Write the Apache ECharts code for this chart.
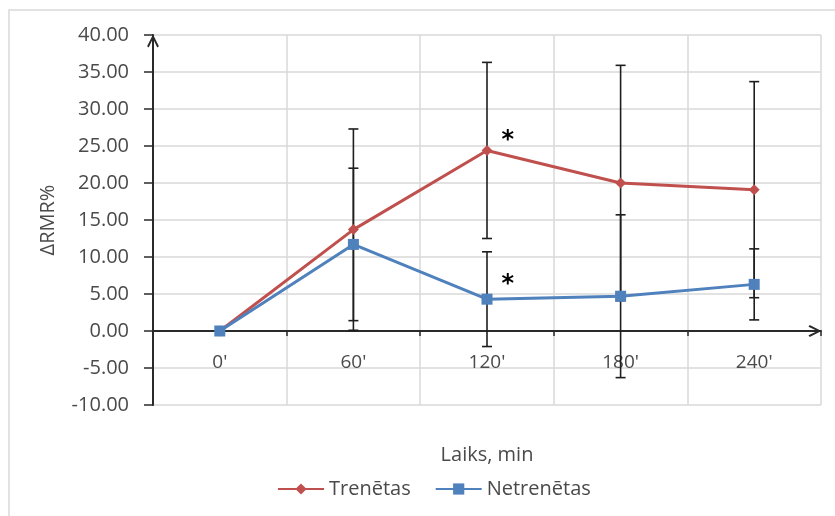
<!DOCTYPE html>
<html>
<head>
<meta charset="utf-8">
<title>ΔRMR%</title>
<script src="https://cdn.jsdelivr.net/npm/echarts@6/dist/echarts.min.js"></script>
<style>
  html, body { margin: 0; padding: 0; background: #fff; }
  #chart { width: 835px; height: 516px; }
</style>
</head>
<body>
<div id="chart"></div>
<script>
// Time points (minutes after the meal)
const categories = ["0'", "60'", "120'", "180'", "240'"];

// Mean change of resting metabolic rate, %
const trainedMean = [0, 13.7, 24.4, 20.0, 19.1];
const untrainedMean = [0, 11.7, 4.3, 4.7, 6.3];

// Standard deviations shown as error bars
const trainedSd = [0, 13.6, 11.9, 15.9, 14.6];
const untrainedSd = [0, 10.3, 6.4, 11.0, 4.8];

// Time points marked as significant
const significant = [2];

const yTicks = [-10, 40, 5]; // min, max, step

const RED = '#C0504D';
const BLUE = '#4F81BD';
const FONT = 'Open Sans';
const TEXT = '#4a4a4a';

// open chevron used as arrow head on both axes
const chevron = 'path://M0,10 L5,0 L10,10 L8.6,11 L5,3.4 L1.4,11 Z';

function errorData(mean, sd) {
  const out = [];
  mean.forEach((m, i) => {
    if (sd[i] > 0) out.push([i, m - sd[i], m + sd[i]]);
  });
  return out;
}

function renderErrorBar(params, api) {
  const x = api.value(0);
  const lo = api.coord([x, api.value(1)]);
  const hi = api.coord([x, api.value(2)]);
  const half = 5;
  const style = { stroke: '#1e1e1e', lineWidth: 1.6 };
  return {
    type: 'group',
    children: [
      { type: 'line', shape: { x1: hi[0], y1: hi[1], x2: lo[0], y2: lo[1] }, style },
      { type: 'line', shape: { x1: hi[0] - half, y1: hi[1], x2: hi[0] + half, y2: hi[1] }, style },
      { type: 'line', shape: { x1: lo[0] - half, y1: lo[1], x2: lo[0] + half, y2: lo[1] }, style }
    ]
  };
}

function withStars(values, offset) {
  return values.map((v, i) => significant.includes(i) ? {
    value: v,
    label: {
      show: true,
      formatter: '*',
      position: 'right',
      offset: offset,
      color: '#000',
      fontSize: 24,
      fontWeight: 'bold',
      fontFamily: 'DejaVu Sans'
    }
  } : v);
}

const chart = echarts.init(document.getElementById('chart'), null, { renderer: 'canvas' });

chart.setOption({
  backgroundColor: '#fff',
  animation: false,
  graphic: [{
    type: 'rect',
    shape: { x: 9, y: 10, width: 840, height: 520 },
    style: { fill: 'none', stroke: '#d9d9d9', lineWidth: 1.5 },
    silent: true,
    z: -1
  }],
  grid: { left: 153, right: 14, top: 35, bottom: 111, outerBoundsMode: 'none', containLabel: false },
  legend: {
    data: ['Trenētas', 'Netrenētas'],
    left: 272,
    top: 474,
    itemWidth: 46,
    itemHeight: 14,
    itemGap: 24,
    textStyle: { fontFamily: FONT, fontSize: 20, color: TEXT }
  },
  xAxis: {
    type: 'category',
    data: categories,
    boundaryGap: true,
    name: 'Laiks, min',
    nameLocation: 'middle',
    nameGap: 40,
    nameTextStyle: { fontFamily: FONT, fontSize: 20, color: TEXT },
    axisLine: {
      onZero: true,
      symbol: ['none', chevron],
      symbolSize: [17, 13],
      symbolOffset: [0, -6],
      lineStyle: { color: '#2a2a2a', width: 2 }
    },
    axisTick: { show: true, length: 5, lineStyle: { color: '#2a2a2a', width: 1.5 } },
    axisLabel: { fontFamily: FONT, fontSize: 19, color: TEXT, margin: -52 },
    splitLine: { show: true, lineStyle: { color: '#d9d9d9', width: 1.5 } }
  },
  yAxis: {
    type: 'value',
    min: yTicks[0],
    max: yTicks[1],
    interval: yTicks[2],
    name: 'ΔRMR%',
    nameLocation: 'middle',
    nameGap: 95,
    nameTextStyle: { fontFamily: FONT, fontSize: 20, color: TEXT },
    axisLine: {
      show: true,
      onZero: false,
      symbol: ['none', chevron],
      symbolSize: [17, 13],
      symbolOffset: [0, -6],
      lineStyle: { color: '#2a2a2a', width: 2 }
    },
    axisTick: { show: true, length: 9, lineStyle: { color: '#2a2a2a', width: 1.5 } },
    axisLabel: {
      fontFamily: FONT, fontSize: 20, color: TEXT, margin: 24,
      formatter: v => v.toFixed(2)
    },
    splitLine: { show: true, lineStyle: { color: '#d9d9d9', width: 1.5 } }
  },
  series: [
    {
      name: 'Trenētas SD',
      type: 'custom',
      renderItem: renderErrorBar,
      data: errorData(trainedMean, trainedSd),
      z: 1,
      silent: true
    },
    {
      name: 'Netrenētas SD',
      type: 'custom',
      renderItem: renderErrorBar,
      data: errorData(untrainedMean, untrainedSd),
      z: 1,
      silent: true
    },
    {
      name: 'Trenētas',
      type: 'line',
      data: withStars(trainedMean, [4, -10]),
      color: RED,
      symbol: 'diamond',
      symbolSize: 11,
      showAllSymbol: true,
      lineStyle: { width: 3, color: RED },
      itemStyle: { color: RED },
      z: 3
    },
    {
      name: 'Netrenētas',
      type: 'line',
      data: withStars(untrainedMean, [4, -14]),
      color: BLUE,
      symbol: 'rect',
      symbolSize: 11,
      showAllSymbol: true,
      lineStyle: { width: 3, color: BLUE },
      itemStyle: { color: BLUE },
      z: 4
    }
  ]
});
</script>
</body>
</html>
